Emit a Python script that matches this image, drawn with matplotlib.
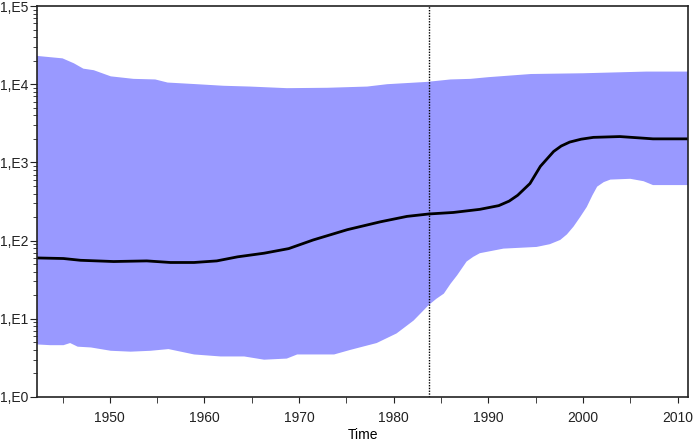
import matplotlib
matplotlib.use("Agg")
import matplotlib.pyplot as plt
import numpy as np
from matplotlib.ticker import FixedLocator, FuncFormatter, LogLocator, NullFormatter

plt.rcParams['font.family'] = ['Liberation Sans', 'DejaVu Sans']

# upper bound of the 95% interval
upper_years = [1942.3, 1945.0, 1946.2, 1947.2, 1948.3, 1950.1, 1952.5, 1954.8, 1956.1, 1959.2,
               1962.0, 1964.8, 1968.7, 1973.0, 1977.2, 1979.3, 1983.5, 1986.0, 1988.1, 1990.0,
               1994.5, 2000.0, 2006.7, 2011.1]
upper_vals = [23000, 21400, 18500, 15800, 15100, 12600, 11700, 11500, 10500, 10000,
              9550, 9330, 8900, 9000, 9330, 10000, 10700, 11500, 11700, 12300,
              13500, 13800, 14500, 14500]

# median
median_years = [1942.3, 1945.1, 1946.9, 1950.4, 1953.9, 1956.4, 1958.9, 1961.3, 1963.5, 1966.3,
                1968.9, 1971.5, 1975.1, 1978.6, 1981.4, 1983.7, 1986.3, 1989.1, 1991.1, 1992.2,
                1993.1, 1994.4, 1995.5, 1996.9, 1997.7, 1998.6, 1999.8, 2001.1, 2003.9, 2006.4,
                2007.4, 2011.1]
median_vals = [60, 59, 56, 54, 55, 52.5, 52.5, 55, 62, 69,
               79, 102, 138, 174, 204, 219, 229, 251, 280, 320,
               380, 537, 891, 1380, 1620, 1820, 1980, 2090, 2140, 2040,
               2000, 2000]

# lower bound of the 95% interval
lower_years = [1942.3, 1943.7, 1945.1, 1945.8, 1946.6, 1948.0, 1950.1, 1952.2, 1954.3, 1956.2,
               1958.9, 1961.7, 1964.2, 1966.3, 1968.7, 1969.8, 1973.7, 1975.4, 1978.2, 1980.3,
               1982.1, 1983.7, 1984.5, 1985.3, 1986.0, 1986.7, 1987.7, 1988.4, 1989.1, 1991.6,
               1995.1, 1996.5, 1997.6, 1998.3, 1999.0, 1999.7, 2000.4, 2001.0, 2001.5, 2002.2,
               2002.9, 2005.0, 2006.4, 2007.4, 2011.1]
lower_vals = [4.7, 4.6, 4.6, 4.9, 4.4, 4.3, 3.9, 3.8, 3.9, 4.1,
              3.5, 3.3, 3.3, 3.0, 3.1, 3.5, 3.5, 4.0, 4.9, 6.5,
              9.5, 15, 18, 21, 28, 36, 54, 62, 69, 79,
              83, 90, 102, 120, 151, 200, 269, 380, 490, 560,
              603, 617, 575, 513, 513]

marker_year = 1983.7
x_major = [1950, 1960, 1970, 1980, 1990, 2000, 2010]
x_minor = [1945, 1955, 1965, 1975, 1985, 1995, 2005]

fig = plt.figure(figsize=(6.98, 4.41), dpi=100)
ax = fig.add_axes([37 / 698, 44 / 441, 651 / 698, 391 / 441])

poly_x = list(upper_years) + list(lower_years[::-1])
poly_y = list(upper_vals) + list(lower_vals[::-1])
ax.fill(poly_x, poly_y, color='#9999ff', linewidth=0)
ax.plot(median_years, median_vals, color='black', linewidth=2, solid_joinstyle='round')
ax.axvline(marker_year, color='black', linewidth=1, linestyle=(0, (1, 1)))

ax.set_yscale('log')
ax.set_xlim(1942.3, 2011.1)
ax.set_ylim(1, 1e5)

ax.xaxis.set_major_locator(FixedLocator(x_major))
ax.xaxis.set_minor_locator(FixedLocator(x_minor))
ax.yaxis.set_major_locator(LogLocator(base=10, numticks=10))
ax.yaxis.set_minor_locator(LogLocator(base=10, subs=np.arange(2, 10), numticks=20))
ax.yaxis.set_major_formatter(FuncFormatter(lambda v, p: "1,E%d" % int(round(np.log10(v)))))
ax.yaxis.set_minor_formatter(NullFormatter())

ax.tick_params(axis='both', which='both', direction='out', labelsize=10, colors='#222222')
ax.tick_params(axis='x', which='both', length=4, pad=6)
ax.tick_params(axis='y', which='major', length=5, pad=1)
ax.tick_params(axis='y', which='minor', length=3)
for sp in ax.spines.values():
    sp.set_linewidth(1.2)
    sp.set_color('#222222')

ax.set_xlabel('Time', fontsize=10, labelpad=2)

fig.savefig('out.png', dpi=100)
